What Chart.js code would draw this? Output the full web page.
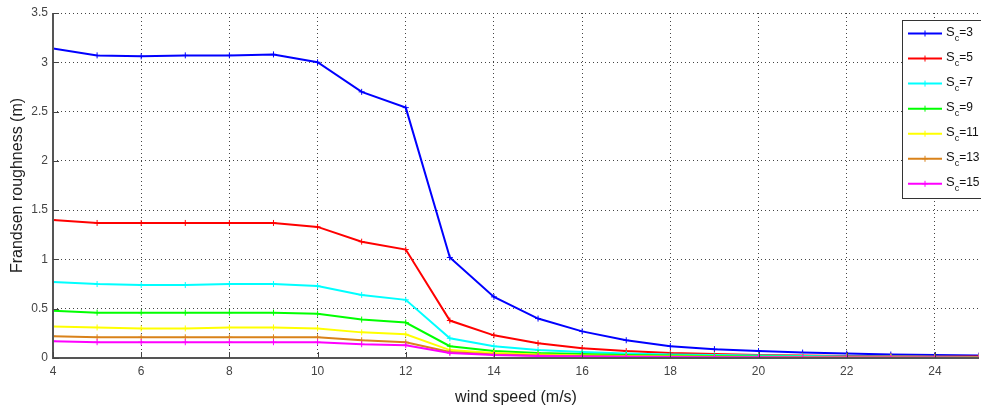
<!DOCTYPE html>
<html><head><meta charset="utf-8">
<script src="https://cdn.jsdelivr.net/npm/chart.js@4"></script>
<style>
html,body{margin:0;padding:0;background:#fff;overflow:hidden;}
#wrap{width:981px;height:407px;overflow:hidden;position:relative;}
canvas{display:block;}
</style></head>
<body><div id="wrap"><canvas id="c" width="984" height="407"></canvas></div>
<script>
const windSpeed = [4,5,6,7,8,9,10,11,12,13,14,15,16,17,18,19,20,21,22,23,24,25];
const sc3  = [3.14,3.07,3.06,3.07,3.07,3.08,3.00,2.70,2.54,1.02,0.62,0.40,0.27,0.18,0.12,0.09,0.07,0.055,0.045,0.035,0.03,0.025];
const sc5  = [1.40,1.37,1.37,1.37,1.37,1.37,1.33,1.18,1.10,0.38,0.23,0.15,0.10,0.07,0.05,0.04,0.03,0.025,0.02,0.02,0.015,0.015];
const sc7  = [0.77,0.75,0.74,0.74,0.75,0.75,0.73,0.64,0.59,0.20,0.12,0.08,0.06,0.045,0.035,0.03,0.025,0.02,0.015,0.015,0.012,0.01];
const sc9  = [0.48,0.46,0.46,0.46,0.46,0.46,0.45,0.39,0.36,0.12,0.07,0.05,0.04,0.03,0.025,0.02,0.015,0.012,0.01,0.01,0.008,0.007];
const sc11 = [0.32,0.31,0.30,0.30,0.31,0.31,0.30,0.26,0.24,0.08,0.05,0.035,0.025,0.02,0.015,0.012,0.01,0.009,0.008,0.007,0.006,0.005];
const sc13 = [0.22,0.21,0.21,0.21,0.21,0.21,0.21,0.18,0.16,0.06,0.035,0.025,0.02,0.015,0.012,0.01,0.008,0.007,0.006,0.005,0.005,0.004];
const sc15 = [0.17,0.16,0.16,0.16,0.16,0.16,0.16,0.14,0.13,0.05,0.03,0.02,0.015,0.012,0.01,0.008,0.007,0.006,0.005,0.004,0.004,0.003];
const seriesValues = [sc3, sc5, sc7, sc9, sc11, sc13, sc15];
const scValues = ['3','5','7','9','11','13','15'];
const colors = ['#0000ff','#ff0000','#00ffff','#00ff00','#ffff00','#d9821a','#ff00ff'];
const xTicks = [4,6,8,10,12,14,16,18,20,22,24];
const yTicks = [0,0.5,1,1.5,2,2.5,3,3.5];
const xTitle = 'wind speed (m/s)';
const yTitle = 'Frandsen roughness (m)';

const FONT = '"Liberation Sans", Arial, sans-serif';

const datasets = seriesValues.map((vals, i) => ({
  label: 'Sc=' + scValues[i],
  data: windSpeed.map((x, j) => ({x: x, y: vals[j]})),
  borderColor: colors[i],
  backgroundColor: colors[i],
  borderWidth: 2,
  pointStyle: 'cross',
  pointRadius: 3,
  pointBorderWidth: 1,
  tension: 0,
  order: 6 - i
}));

const matlabDecor = {
  id: 'matlabDecor',
  afterDraw(chart) {
    const ctx = chart.ctx, a = chart.chartArea;
    const xs = chart.scales.x, ys = chart.scales.y;
    ctx.save();
    ctx.strokeStyle = '#555';
    ctx.lineWidth = 2;
    ctx.beginPath();
    ctx.moveTo(a.left, a.top); ctx.lineTo(a.left, a.bottom + 1);
    ctx.moveTo(a.left - 1, a.bottom); ctx.lineTo(a.right, a.bottom);
    ctx.stroke();
    ctx.lineWidth = 1;
    ctx.strokeStyle = '#444';
    ctx.beginPath();
    xTicks.forEach(t => { const px = Math.round(xs.getPixelForValue(t)) + 0.5; ctx.moveTo(px, a.bottom); ctx.lineTo(px, a.bottom - 6); });
    yTicks.forEach(t => { const py = Math.round(ys.getPixelForValue(t)) + 0.5; ctx.moveTo(a.left, py); ctx.lineTo(a.left + 6, py); });
    ctx.stroke();
    const lx = 902, ly = 20, lw = 100, lh = 178;
    ctx.fillStyle = '#fff';
    ctx.fillRect(lx, ly, lw, lh);
    ctx.strokeStyle = '#333';
    ctx.lineWidth = 1;
    ctx.strokeRect(lx + 0.5, ly + 0.5, lw, lh);
    scValues.forEach((v, i) => {
      const y = 33.5 + i * 25.05;
      ctx.strokeStyle = colors[i];
      ctx.lineWidth = 2;
      ctx.beginPath(); ctx.moveTo(908, y); ctx.lineTo(942, y); ctx.stroke();
      ctx.lineWidth = 1;
      ctx.beginPath(); ctx.moveTo(922, y); ctx.lineTo(928, y); ctx.moveTo(925, y - 3); ctx.lineTo(925, y + 3); ctx.stroke();
      ctx.fillStyle = '#111';
      ctx.textBaseline = 'middle';
      ctx.textAlign = 'left';
      ctx.font = '13px ' + FONT;
      let tx = 946;
      ctx.fillText('S', tx, y - 1);
      tx += ctx.measureText('S').width;
      ctx.font = '9px ' + FONT;
      ctx.fillText('c', tx, y + 5);
      tx += ctx.measureText('c').width;
      ctx.font = '12px ' + FONT;
      ctx.fillText('=' + v, tx, y - 1);
    });
    ctx.restore();
  }
};

new Chart(document.getElementById('c'), {
  type: 'line',
  data: { datasets },
  options: {
    responsive: false,
    animation: false,
    events: [],
    layout: { padding: { top: 13, right: 0, left: 0, bottom: 0 } },
    plugins: { legend: { display: false }, tooltip: { enabled: false } },
    scales: {
      x: {
        type: 'linear', min: 4, max: 25,
        afterBuildTicks: s => { s.ticks = xTicks.map(v => ({value: v})); },
        afterFit: s => { s.height = 49; },
        grid: { color: '#444', lineWidth: 1, drawTicks: false },
        border: { display: false, dash: [1, 3] },
        ticks: { color: '#444', font: { family: FONT, size: 12 }, padding: 6, maxRotation: 0, callback: v => String(v) },
        title: { display: true, text: xTitle, color: '#222', font: { family: FONT, size: 16 }, padding: { top: 8, bottom: 0 } }
      },
      y: {
        type: 'linear', min: 0, max: 3.5,
        afterBuildTicks: s => { s.ticks = yTicks.map(v => ({value: v})); },
        afterFit: s => { s.width = 53; },
        grid: { color: '#444', lineWidth: 1, drawTicks: false },
        border: { display: false, dash: [1, 3] },
        ticks: { color: '#444', font: { family: FONT, size: 12 }, padding: 5, callback: v => String(v) },
        title: { display: true, text: yTitle, color: '#222', font: { family: FONT, size: 16 }, padding: { top: 8, bottom: 4 } }
      }
    }
  },
  plugins: [matlabDecor]
});
</script>
</body></html>
